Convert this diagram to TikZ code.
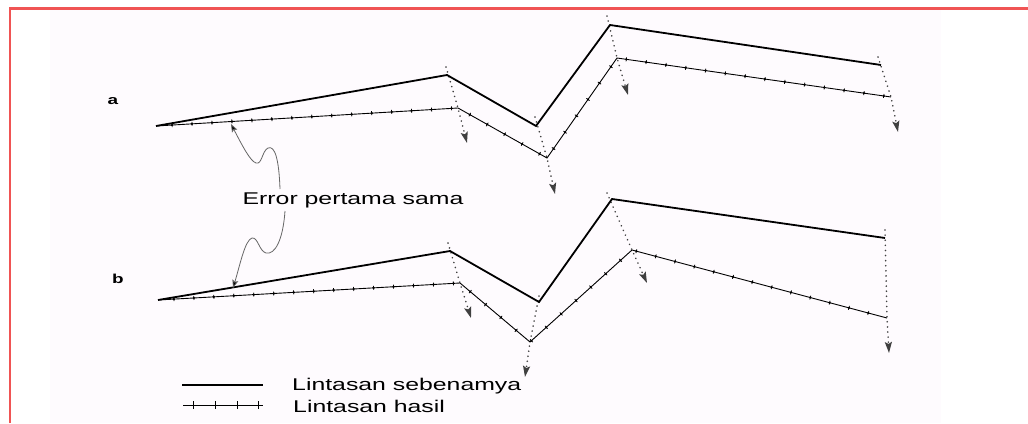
\documentclass[tikz,border=0pt]{standalone}
\usepackage{fontspec}
\setmainfont{Liberation Sans}
\usetikzlibrary{arrows.meta,decorations.markings}
\definecolor{framered}{RGB}{240,84,84}
\definecolor{bgpink}{RGB}{254,251,254}
\tikzset{
  truepath/.style={line width=1.8pt, line join=miter},
  respath/.style={line width=0.9pt, postaction={decorate},
    decoration={markings, mark=between positions 0.02 and 1 step 20pt with {\fill (0,0) circle (1.3pt); \draw[line width=0.7pt] (0,-2pt) -- (0,2pt);}}},
  errarrow/.style={draw=black!75, line width=1.7pt, dash pattern=on 0.1pt off 5pt, line cap=round,
    -{Stealth[length=11pt,width=7pt,inset=2pt,line cap=butt]}},
  pointer/.style={draw=black!60, line width=0.8pt, -{Stealth[length=8pt,width=6pt,inset=1.5pt,fill=black]}},
  lbl/.style={inner sep=0pt, font=\fontsize{17}{20}\selectfont},
  small/.style={inner sep=0pt, font=\fontsize{13}{15}\selectfont\bfseries},
  tick/.style={line width=0.9pt}
}
\begin{document}
\begin{tikzpicture}[x=1pt,y=-1pt]
\useasboundingbox (0,0) rectangle (1028,423);
\fill[bgpink] (50,10) rectangle (941,423);
\draw[framered, line width=2.4pt] (10,423) -- (10,8.5) -- (1028,8.5);

% ---------- diagram a ----------
\coordinate (A0) at (156,126);
\coordinate (At1) at (447,75);
\coordinate (At2) at (536,126);
\coordinate (At3) at (610,25);
\coordinate (At4) at (881,65);
\coordinate (Ar1) at (458,108);
\coordinate (Ar2) at (547,158);
\coordinate (Ar3) at (617,58);
\coordinate (Ar4) at (891,97);
\coordinate (As1) at (446,67);
\coordinate (As2) at (535,117);
\coordinate (As3) at (607,16);
\coordinate (As4) at (878,57);
\coordinate (Ae1) at (467,143);
\coordinate (Ae2) at (555,194);
\coordinate (Ae3) at (628,95);
\coordinate (Ae4) at (898,132);

\draw[errarrow] (As1) -- (Ar1) -- (Ae1);
\draw[errarrow] (As2) -- (Ar2) -- (Ae2);
\draw[errarrow] (As3) -- (Ar3) -- (Ae3);
\draw[errarrow] (As4) -- (Ar4) -- (Ae4);
\draw[truepath] (A0) -- (At1) -- (At2) -- (At3) -- (At4);
\draw[respath] (A0) -- (Ar1) -- (Ar2) -- (Ar3) -- (Ar4);
\node[small] (la) at (113,101) {\scalebox{1.46}[1]{a}};

% ---------- diagram b ----------
\coordinate (B0) at (158,300);
\coordinate (Bt1) at (450,251);
\coordinate (Bt2) at (539,302);
\coordinate (Bt3) at (612,199);
\coordinate (Bt4) at (885,238);
\coordinate (Br1) at (460,283);
\coordinate (Br2) at (530,342);
\coordinate (Br3) at (632,250);
\coordinate (Br4) at (887,318);
\coordinate (Bs1) at (448,243);
\coordinate (Bs2) at (539,296);
\coordinate (Bs3) at (607,193);
\coordinate (Bs4) at (885,230);
\coordinate (Be1) at (471,318);
\coordinate (Be2) at (525,377);
\coordinate (Be3) at (647,283);
\coordinate (Be4) at (889,353);

\draw[errarrow] (Bs1) -- (Br1) -- (Be1);
\draw[errarrow] (Bs2) -- (Br2) -- (Be2);
\draw[errarrow] (Bs3) -- (Br3) -- (Be3);
\draw[errarrow] (Bs4) -- (Br4) -- (Be4);
\draw[truepath] (B0) -- (Bt1) -- (Bt2) -- (Bt3) -- (Bt4);
\draw[respath] (B0) -- (Br1) -- (Br2) -- (Br3) -- (Br4);
\node[small] (lb) at (118,279) {\scalebox{1.46}[1]{b}};

% ---------- common error label ----------
\node[lbl] (err) at (353,200) {\scalebox{1.46}[1]{Error pertama sama}};
\coordinate (pa) at (231,124);
\coordinate (pb) at (233,288);
\draw[pointer] (280,189) .. controls (279,160) and (275,145) .. (268,148)
   .. controls (262,151) and (262,165) .. (256,163)
   .. controls (250,161) and (242,145) .. (pa);
\draw[pointer] (285,211) .. controls (283,240) and (275,255) .. (266,253)
   .. controls (259,251) and (258,237) .. (252,238)
   .. controls (245,240) and (240,265) .. (pb);

% ---------- legend ----------
\coordinate (L1a) at (182,385);
\coordinate (L1b) at (263,385);
\coordinate (L2a) at (183,405);
\coordinate (L2b) at (263,405);
\draw[truepath] (L1a) -- (L1b);
\draw[line width=0.9pt] (L2a) -- (L2b);
\foreach \tx in {193,215,237,258} \draw[tick] (\tx,401) -- (\tx,409);
\node[lbl, anchor=west] (leg1) at (292,386) {\scalebox{1.46}[1]{Lintasan sebenamya}};
\node[lbl, anchor=west] (leg2) at (293,406) {\scalebox{1.46}[1]{Lintasan hasil}};
\end{tikzpicture}
\end{document}
